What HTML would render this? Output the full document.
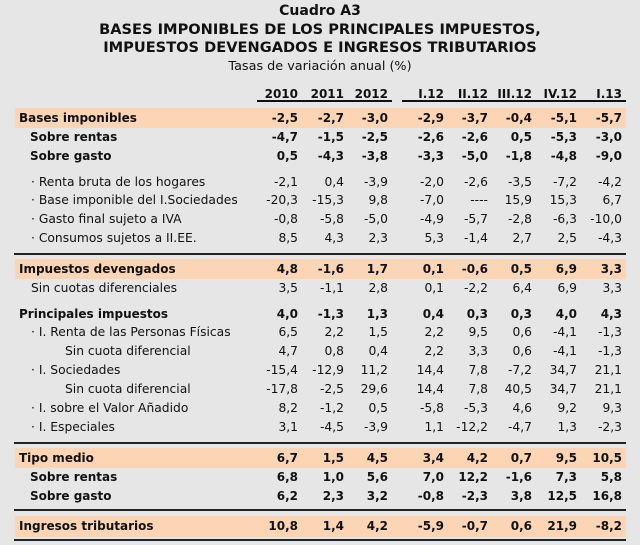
<!DOCTYPE html>
<html><head><meta charset="utf-8"><style>
body{margin:0;background:#e6e6e6;}
#w{position:relative;width:640px;height:545px;overflow:hidden;background:#e6e6e6;font-family:"DejaVu Sans","Liberation Sans",sans-serif;color:#111;font-size:12.3px;}
.t{position:absolute;left:0;width:640px;text-align:center;font-weight:bold;white-space:nowrap;}
.r{position:absolute;left:0;width:640px;height:16px;line-height:16px;white-space:nowrap;}
.r span{position:absolute;top:0;}
.b{font-weight:bold;font-size:12px;}
.c1{right:342px}.c2{right:296px}.c3{right:252px}.c4{right:196px}.c5{right:152px}.c6{right:108px}.c7{right:63px}.c8{right:18px}
.band{position:absolute;left:15px;width:611px;background:#fcd5b4;}
.ln{position:absolute;left:14px;width:612px;height:2px;background:#222;}
</style></head><body><div id="w">
<div class="t" style="top:3px;font-size:14px;">Cuadro A3</div>
<div class="t" style="top:21px;font-size:14.6px;">BASES IMPONIBLES DE LOS PRINCIPALES IMPUESTOS,</div>
<div class="t" style="top:39px;font-size:14.6px;">IMPUESTOS DEVENGADOS E INGRESOS TRIBUTARIOS</div>
<div class="t" style="top:59px;font-weight:normal;font-size:12.8px;">Tasas de variación anual (%)</div>

<div class="r b" style="top:86px;"><span class="c1">2010</span><span class="c2">2011</span><span class="c3">2012</span><span class="c4">I.12</span><span class="c5">II.12</span><span class="c6">III.12</span><span class="c7">IV.12</span><span class="c8">I.13</span></div>
<div style="position:absolute;left:257px;top:100px;width:135px;height:2px;background:#111"></div>
<div style="position:absolute;left:402px;top:100px;width:224px;height:2px;background:#111"></div>

<div class="band" style="top:108px;height:20px"></div>
<div class="band" style="top:259px;height:20px"></div>
<div class="band" style="top:448px;height:20px"></div>
<div class="band" style="top:516px;height:21px"></div>
<div class="ln" style="top:253px"></div>
<div class="ln" style="top:442px"></div>
<div class="ln" style="top:509px"></div>
<div class="ln" style="top:539px"></div>

<div class="r b" style="top:110px"><span style="left:19px">Bases imponibles</span><span class="c1">-2,5</span><span class="c2">-2,7</span><span class="c3">-3,0</span><span class="c4">-2,9</span><span class="c5">-3,7</span><span class="c6">-0,4</span><span class="c7">-5,1</span><span class="c8">-5,7</span></div>
<div class="r b" style="top:129px"><span style="left:30px">Sobre rentas</span><span class="c1">-4,7</span><span class="c2">-1,5</span><span class="c3">-2,5</span><span class="c4">-2,6</span><span class="c5">-2,6</span><span class="c6">0,5</span><span class="c7">-5,3</span><span class="c8">-3,0</span></div>
<div class="r b" style="top:148px"><span style="left:30px">Sobre gasto</span><span class="c1">0,5</span><span class="c2">-4,3</span><span class="c3">-3,8</span><span class="c4">-3,3</span><span class="c5">-5,0</span><span class="c6">-1,8</span><span class="c7">-4,8</span><span class="c8">-9,0</span></div>
<div class="r" style="top:174px"><span style="left:31px">· Renta bruta de los hogares</span><span class="c1">-2,1</span><span class="c2">0,4</span><span class="c3">-3,9</span><span class="c4">-2,0</span><span class="c5">-2,6</span><span class="c6">-3,5</span><span class="c7">-7,2</span><span class="c8">-4,2</span></div>
<div class="r" style="top:192px"><span style="left:31px">· Base imponible del I.Sociedades</span><span class="c1">-20,3</span><span class="c2">-15,3</span><span class="c3">9,8</span><span class="c4">-7,0</span><span class="c5">----</span><span class="c6">15,9</span><span class="c7">15,3</span><span class="c8">6,7</span></div>
<div class="r" style="top:211px"><span style="left:31px">· Gasto final sujeto a IVA</span><span class="c1">-0,8</span><span class="c2">-5,8</span><span class="c3">-5,0</span><span class="c4">-4,9</span><span class="c5">-5,7</span><span class="c6">-2,8</span><span class="c7">-6,3</span><span class="c8">-10,0</span></div>
<div class="r" style="top:230px"><span style="left:31px">· Consumos sujetos a II.EE.</span><span class="c1">8,5</span><span class="c2">4,3</span><span class="c3">2,3</span><span class="c4">5,3</span><span class="c5">-1,4</span><span class="c6">2,7</span><span class="c7">2,5</span><span class="c8">-4,3</span></div>

<div class="r b" style="top:261px"><span style="left:19px">Impuestos devengados</span><span class="c1">4,8</span><span class="c2">-1,6</span><span class="c3">1,7</span><span class="c4">0,1</span><span class="c5">-0,6</span><span class="c6">0,5</span><span class="c7">6,9</span><span class="c8">3,3</span></div>
<div class="r" style="top:280px"><span style="left:31px">Sin cuotas diferenciales</span><span class="c1">3,5</span><span class="c2">-1,1</span><span class="c3">2,8</span><span class="c4">0,1</span><span class="c5">-2,2</span><span class="c6">6,4</span><span class="c7">6,9</span><span class="c8">3,3</span></div>
<div class="r b" style="top:306px"><span style="left:19px">Principales impuestos</span><span class="c1">4,0</span><span class="c2">-1,3</span><span class="c3">1,3</span><span class="c4">0,4</span><span class="c5">0,3</span><span class="c6">0,3</span><span class="c7">4,0</span><span class="c8">4,3</span></div>
<div class="r" style="top:324px"><span style="left:31px">· I. Renta de las Personas Físicas</span><span class="c1">6,5</span><span class="c2">2,2</span><span class="c3">1,5</span><span class="c4">2,2</span><span class="c5">9,5</span><span class="c6">0,6</span><span class="c7">-4,1</span><span class="c8">-1,3</span></div>
<div class="r" style="top:343px"><span style="left:65px">Sin cuota diferencial</span><span class="c1">4,7</span><span class="c2">0,8</span><span class="c3">0,4</span><span class="c4">2,2</span><span class="c5">3,3</span><span class="c6">0,6</span><span class="c7">-4,1</span><span class="c8">-1,3</span></div>
<div class="r" style="top:362px"><span style="left:31px">· I. Sociedades</span><span class="c1">-15,4</span><span class="c2">-12,9</span><span class="c3">11,2</span><span class="c4">14,4</span><span class="c5">7,8</span><span class="c6">-7,2</span><span class="c7">34,7</span><span class="c8">21,1</span></div>
<div class="r" style="top:381px"><span style="left:65px">Sin cuota diferencial</span><span class="c1">-17,8</span><span class="c2">-2,5</span><span class="c3">29,6</span><span class="c4">14,4</span><span class="c5">7,8</span><span class="c6">40,5</span><span class="c7">34,7</span><span class="c8">21,1</span></div>
<div class="r" style="top:400px"><span style="left:31px">· I. sobre el Valor Añadido</span><span class="c1">8,2</span><span class="c2">-1,2</span><span class="c3">0,5</span><span class="c4">-5,8</span><span class="c5">-5,3</span><span class="c6">4,6</span><span class="c7">9,2</span><span class="c8">9,3</span></div>
<div class="r" style="top:419px"><span style="left:31px">· I. Especiales</span><span class="c1">3,1</span><span class="c2">-4,5</span><span class="c3">-3,9</span><span class="c4">1,1</span><span class="c5">-12,2</span><span class="c6">-4,7</span><span class="c7">1,3</span><span class="c8">-2,3</span></div>

<div class="r b" style="top:450px"><span style="left:19px">Tipo medio</span><span class="c1">6,7</span><span class="c2">1,5</span><span class="c3">4,5</span><span class="c4">3,4</span><span class="c5">4,2</span><span class="c6">0,7</span><span class="c7">9,5</span><span class="c8">10,5</span></div>
<div class="r b" style="top:469px"><span style="left:30px">Sobre rentas</span><span class="c1">6,8</span><span class="c2">1,0</span><span class="c3">5,6</span><span class="c4">7,0</span><span class="c5">12,2</span><span class="c6">-1,6</span><span class="c7">7,3</span><span class="c8">5,8</span></div>
<div class="r b" style="top:488px"><span style="left:30px">Sobre gasto</span><span class="c1">6,2</span><span class="c2">2,3</span><span class="c3">3,2</span><span class="c4">-0,8</span><span class="c5">-2,3</span><span class="c6">3,8</span><span class="c7">12,5</span><span class="c8">16,8</span></div>
<div class="r b" style="top:518px"><span style="left:19px">Ingresos tributarios</span><span class="c1">10,8</span><span class="c2">1,4</span><span class="c3">4,2</span><span class="c4">-5,9</span><span class="c5">-0,7</span><span class="c6">0,6</span><span class="c7">21,9</span><span class="c8">-8,2</span></div>
</div></body></html>
